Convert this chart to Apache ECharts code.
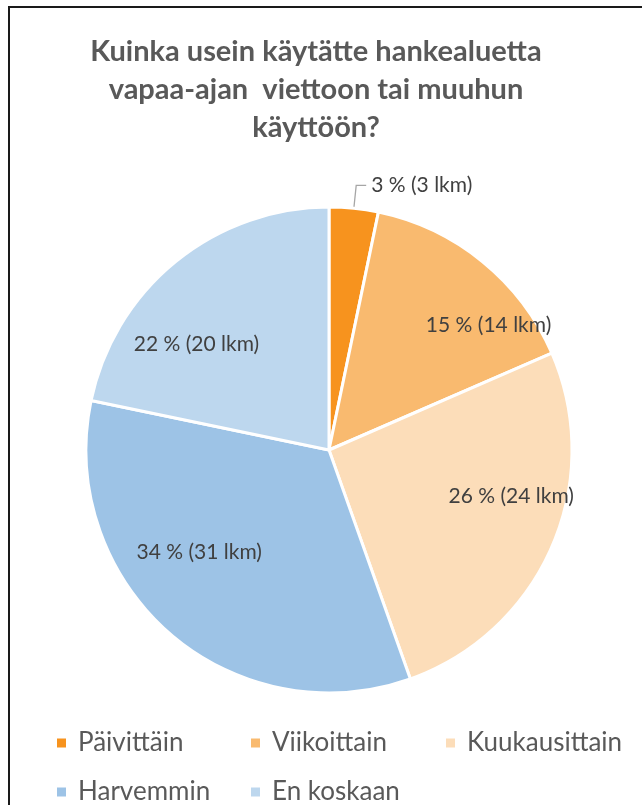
<!DOCTYPE html>
<html>
<head>
<meta charset="utf-8">
<title>Kuinka usein käytätte hankealuetta</title>
<script src="https://cdn.jsdelivr.net/npm/echarts@6/dist/echarts.min.js"></script>
<style>
  html, body { margin: 0; padding: 0; background: #fff; }
  #chart { width: 642px; height: 805px; }
</style>
</head>
<body>
<div id="chart"></div>
<script>
// vastausvaihtoehdot ja lukumäärät
var categories = ['Päivittäin', 'Viikoittain', 'Kuukausittain', 'Harvemmin', 'En koskaan'];
var counts = [3, 14, 24, 31, 20];
var colors = ['#F7931E', '#F9BA6F', '#FCDDB9', '#9DC3E6', '#BDD7EE'];
var titleText = 'Kuinka usein käytätte hankealuetta\nvapaa-ajan  viettoon tai muuhun\nkäyttöön?';

var myChart = echarts.init(document.getElementById('chart'));

var pieData = categories.map(function (name, i) {
    var item = { name: name, value: counts[i] };
    if (i === 0) {
        // pieni siivu -> nimiö ulkopuolelle viivan kanssa
        item.label = { position: 'outside' };
        item.labelLine = { show: true };
    }
    return item;
});

// sisänimiöiden siirrot (Excelin "paras sovitus")
var labelShift = [null, [81, -28], [68, -3], [-48, 8], [-54, -9]];

// legenda: sarakkeet kuten alkuperäisessä
var legendSpots = [[50, 723], [244, 723], [439, 723], [50, 772], [244, 772]];
var legends = categories.map(function (name, i) {
    return {
        data: [name],
        left: legendSpots[i][0],
        top: legendSpots[i][1],
        icon: 'rect',
        itemWidth: 11,
        itemHeight: 11,
        textStyle: {
            fontFamily: 'Lato',
            fontSize: 26,
            lineHeight: 30,
            color: '#595959',
            padding: [0, 0, 0, 6]
        },
        selectedMode: false
    };
});

var option = {
    backgroundColor: '#ffffff',
    color: colors,
    title: {
        text: titleText,
        left: 311,
        top: 28,
        textAlign: 'center',
        textStyle: {
            fontFamily: 'Lato',
            fontWeight: 'bold',
            fontSize: 29,
            lineHeight: 38,
            color: '#595959'
        }
    },
    legend: legends,
    graphic: [
        {
            type: 'rect',
            shape: { x: 9, y: 7, width: 700, height: 900 },
            style: { fill: 'none', stroke: '#1a1a1a', lineWidth: 2 },
            silent: true
        }
    ],
    series: [
        {
            type: 'pie',
            center: [329, 450],
            radius: 243,
            startAngle: 90,
            clockwise: true,
            avoidLabelOverlap: false,
            itemStyle: {
                borderColor: '#ffffff',
                borderWidth: 3
            },
            label: {
                position: 'inside',
                fontFamily: 'Lato',
                fontSize: 21,
                color: '#404040',
                formatter: function (p) {
                    return Math.round(p.percent) + ' % (' + p.value + ' lkm)';
                }
            },
            labelLine: {
                show: false,
                length: 23,
                length2: 10,
                lineStyle: { color: '#A6A6A6', width: 1.3 }
            },
            labelLayout: function (p) {
                var s = labelShift[p.dataIndex];
                if (!s) return {};
                return { dx: s[0], dy: s[1] };
            },
            data: pieData
        }
    ]
};
myChart.setOption(option);
</script>
</body>
</html>
